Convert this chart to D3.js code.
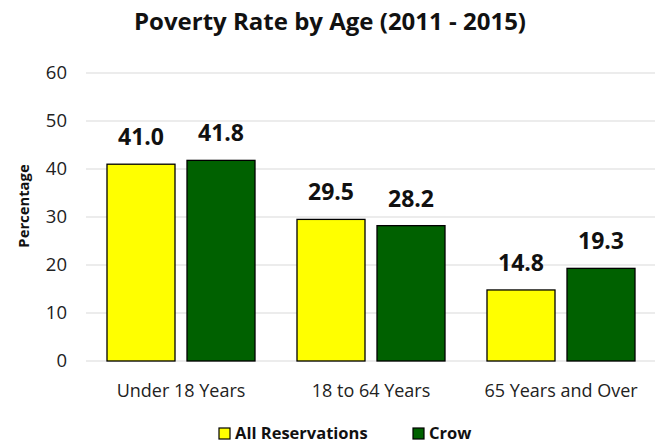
<!DOCTYPE html>
<html><head><meta charset="utf-8">
<script src="https://cdn.jsdelivr.net/npm/d3@7"></script>
<style>body{margin:0;background:#fff}svg{display:block}text{font-family:"Open Sans",sans-serif}</style>
</head><body><svg id="c" width="655" height="444"></svg>
<script>
const categories = ["Under 18 Years", "18 to 64 Years", "65 Years and Over"];
const seriesNames = ["All Reservations", "Crow"];
const allReservations = [41.0, 29.5, 14.8];
const crow = [41.8, 28.2, 19.3];
const yTicks = [0, 10, 20, 30, 40, 50, 60];
const colors = ["#ffff00", "#006100"];

const svg = d3.select("#c");
const m = {l: 86, r: 656, t: 73, b: 361};
const x0 = d3.scaleBand().domain(categories).range([m.l, m.r]).paddingInner(0.221).paddingOuter(0.1105);
const x1 = d3.scaleBand().domain(seriesNames).range([0, x0.bandwidth()]).paddingInner(0.15);
const y = d3.scaleLinear().domain([0, 60]).range([m.b, m.t]);

// grid
svg.append("g").selectAll("line").data(yTicks).join("line")
  .attr("x1", m.l).attr("x2", m.r).attr("y1", d => y(d)).attr("y2", d => y(d))
  .attr("stroke", "#d9d9d9").attr("stroke-width", 1);

// y axis labels
const yAxis = d3.axisLeft(y).tickValues(yTicks).tickSize(0).tickPadding(0);
const ga = svg.append("g").attr("transform", `translate(${m.l - 19},0)`).call(yAxis);
ga.select(".domain").remove();
ga.selectAll("text").attr("font-size", 18.5).attr("fill", "#222").attr("font-family", "'Open Sans',sans-serif");

// x axis labels
const xAxis = d3.axisBottom(x0).tickSize(0).tickPadding(0);
const gx = svg.append("g").attr("transform", `translate(0,${m.b})`).call(xAxis);
gx.select(".domain").remove();
gx.selectAll("text").attr("y", 36).attr("dy", null).attr("font-size", 18).attr("fill", "#222").attr("font-family", "'Open Sans',sans-serif");

const data = categories.map((c, i) => ({c, vals: [allReservations[i], crow[i]]}));
const groups = svg.append("g").selectAll("g").data(data).join("g")
  .attr("transform", d => `translate(${x0(d.c)},0)`);
groups.selectAll("rect").data(d => d.vals.map((v, j) => ({k: seriesNames[j], v, j}))).join("rect")
  .attr("x", d => x1(d.k)).attr("width", x1.bandwidth())
  .attr("y", d => y(d.v)).attr("height", d => y(0) - y(d.v))
  .attr("fill", d => colors[d.j]).attr("stroke", "#000").attr("stroke-width", 1.3);
groups.selectAll("text").data(d => d.vals.map((v, j) => ({k: seriesNames[j], v, j}))).join("text")
  .attr("x", d => x1(d.k) + x1.bandwidth() / 2).attr("y", d => y(d.v) - 19)
  .attr("text-anchor", "middle").attr("font-size", 23).attr("font-weight", "bold").attr("fill", "#111")
  .text(d => d.v.toFixed(1));

// title
svg.append("text").attr("x", 330).attr("y", 30).attr("text-anchor", "middle")
  .attr("font-size", 24).attr("font-weight", "bold").attr("fill", "#111")
  .text("Poverty Rate by Age (2011 - 2015)");

// y title
svg.append("text").attr("transform", "translate(29,206) rotate(-90)").attr("text-anchor", "middle")
  .attr("font-size", 14.8).attr("font-weight", "bold").attr("fill", "#111").text("Percentage");

// legend
const legX = [219, 413];
const lg = svg.append("g").selectAll("g").data(seriesNames).join("g")
  .attr("transform", (d, i) => `translate(${legX[i]},428)`);
lg.append("rect").attr("width", 11).attr("height", 11).attr("fill", (d, i) => colors[i]).attr("stroke", "#000").attr("stroke-width", 1.2);
lg.append("text").attr("x", 16).attr("y", 10.5).attr("font-size", 16.5).attr("font-weight", "bold").attr("fill", "#111").text(d => d);
</script></body></html>
